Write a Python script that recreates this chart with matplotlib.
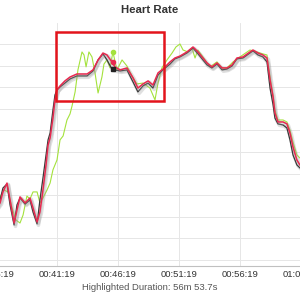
import matplotlib
matplotlib.use('Agg')
import matplotlib.pyplot as plt
import matplotlib.patheffects as pe
from matplotlib.patches import Rectangle


# Elapsed time [s] and heart rate [bpm].
main_time = [
    2174, 2199, 2213, 2233, 2248, 2268, 2282, 2297, 2322, 2346, 2361, 2381,
    2395, 2410, 2425, 2435, 2445, 2459, 2469, 2479, 2494, 2518, 2543, 2577,
    2627, 2656, 2681, 2705, 2725, 2749, 2764, 2789, 2823, 2853, 2877, 2902,
    2927, 2951, 2976, 3000, 3035, 3059, 3084, 3118, 3148, 3173, 3197, 3217,
    3241, 3266, 3291, 3315, 3340, 3364, 3394, 3428, 3443, 3468, 3492, 3512,
    3527, 3542, 3551, 3566, 3591, 3610, 3625, 3640, 3659, 3674, 3699,
]
red_hr = [
    83.1, 86.4, 91.5, 95.6, 87.8, 77.1, 83.1, 89.2, 86.4, 88.7, 84.1, 77.6,
    82.2, 92.4, 104.0, 113.2, 116.5, 125.7, 134.1, 138.7, 140.6, 142.9, 144.7, 146.1,
    146.1, 148.0, 152.6, 155.8, 154.9, 151.7, 149.4, 148.0, 148.9, 144.3, 139.6, 141.5,
    142.9, 141.0, 146.6, 148.4, 151.7, 153.5, 154.4, 156.3, 158.6, 156.3, 153.5, 151.2,
    149.4, 151.2, 148.9, 148.9, 150.3, 153.5, 154.0, 156.3, 157.2, 155.8, 154.9, 153.5,
    143.3, 135.5, 128.1, 123.9, 123.9, 123.0, 118.8, 112.3, 106.3, 104.0, 101.7,
]
black_hr = [
    83.0, 87.8, 93.3, 95.2, 85.5, 76.2, 85.5, 88.7, 85.9, 87.8, 82.2, 76.7,
    87.8, 98.0, 108.6, 115.6, 118.8, 129.4, 136.4, 138.7, 140.1, 141.9, 143.8, 145.2,
    145.2, 147.5, 152.6, 155.4, 152.6, 148.4, 148.0, 147.5, 148.0, 142.4, 137.8, 140.6,
    141.9, 139.6, 145.6, 148.0, 150.7, 153.1, 154.0, 155.8, 158.1, 155.4, 152.6, 150.3,
    148.9, 150.7, 148.0, 148.4, 149.8, 153.1, 153.5, 155.8, 156.8, 154.9, 154.0, 151.7,
    139.6, 131.8, 125.7, 123.0, 122.5, 121.1, 115.6, 108.6, 104.0, 102.6, 100.5,
]

green_time = [
    2174, 2199, 2218, 2238, 2258, 2277, 2297, 2312, 2331, 2346, 2361, 2381,
    2395, 2410, 2430, 2445, 2459, 2479, 2494, 2509, 2528, 2543, 2553, 2568,
    2582, 2602, 2612, 2622, 2636, 2651, 2666, 2681, 2700, 2710, 2725, 2740,
    2754, 2774, 2799, 2823, 2848, 2872, 2902, 2936, 2961, 2976, 2995, 3020,
    3045, 3064, 3084, 3099, 3123, 3143, 3158, 3172, 3197, 3231, 3266, 3290,
    3315, 3345, 3379, 3428, 3463, 3492, 3512, 3527, 3541, 3551, 3566, 3591,
    3610, 3625, 3640, 3659, 3674, 3699,
]
green_hr = [
    87.8, 89.2, 92.4, 91.5, 84.1, 78.5, 77.1, 80.8, 89.6, 88.2, 91.5, 91.5,
    86.4, 88.7, 92.4, 95.6, 101.7, 106.3, 115.6, 117.4, 124.8, 127.6, 131.3, 137.8,
    148.0, 156.3, 154.9, 149.4, 156.3, 154.0, 146.6, 137.3, 144.7, 150.7, 152.6, 148.9,
    156.3, 148.0, 152.6, 149.8, 145.2, 141.5, 141.9, 139.6, 134.1, 141.9, 148.9, 152.6,
    155.8, 158.6, 160.0, 157.2, 156.3, 158.1, 153.5, 157.2, 154.0, 149.4, 151.7, 148.9,
    148.9, 151.7, 154.0, 157.2, 156.3, 155.4, 154.9, 144.7, 136.4, 129.4, 124.8, 124.8,
    123.9, 120.2, 114.6, 108.6, 107.2, 105.4,
]

# Hovered point on each series
hover_time = 2754
hover_hr = {'green': 156.3, 'red': 151.7, 'black': 148.4}

# Highlighted zone (time start, time end, hr low, hr high)
zone_time = [2474, 3005]
zone_hr = [133.6, 165.6]

tick_labels = ['00:36:19', '00:41:19', '00:46:19', '00:51:19', '00:56:19', '01:01:19']
hr_grid = [60, 70, 80, 90, 100, 110, 120, 130, 140, 150, 160]

title = 'Heart Rate'
footer = 'Highlighted Duration: 56m 53.7s'

save_file_name = 'out.png'


def to_seconds(label):
    h, m, s = label.split(':')
    return int(h) * 3600 + int(m) * 60 + int(s)


def main():
    plt.rcParams['font.family'] = ['Liberation Sans', 'DejaVu Sans']

    fig = plt.figure(figsize=(3, 3), dpi=100)
    # plot area runs past the left and right edges of the picture
    ax = fig.add_axes([-0.1, 0.1133, 1.2, 0.81])

    shadow = [pe.SimpleLineShadow(offset=(1.0, -1.0), shadow_color='#999999', alpha=0.3, linewidth=2.6),
              pe.Normal()]

    ax.plot(green_time, green_hr, color='#a4e23c', linewidth=0.8, zorder=3)
    ax.plot(main_time, black_hr, color='#3a3a3a', linewidth=0.9, zorder=4, path_effects=shadow)
    ax.plot(main_time, red_hr, color='#e8294f', linewidth=1.1, zorder=5, path_effects=shadow)

    ax.plot(hover_time, hover_hr['green'], 'o', color='#a4e23c', markersize=3, zorder=6)
    ax.plot(hover_time, hover_hr['red'], 'o', color='#e8294f', markersize=3, zorder=6)
    ax.plot(hover_time, hover_hr['black'], 's', color='#222222', markersize=2.6, zorder=6)

    ax.add_patch(Rectangle((zone_time[0], zone_hr[0]), zone_time[1] - zone_time[0],
                           zone_hr[1] - zone_hr[0], fill=False, edgecolor='#e3141c',
                           linewidth=1.8, zorder=7))

    ax.set_xlim(2051, 3822)
    ax.set_ylim(57.2, 169.7)

    ax.set_xticks([to_seconds(t) for t in tick_labels])
    ax.set_xticklabels(tick_labels)
    ax.set_yticks(hr_grid)
    ax.tick_params(axis='x', length=0, pad=3, labelsize=6.8, labelcolor='#333333')
    ax.tick_params(axis='y', left=False, labelleft=False)

    ax.grid(True, color='#e6e6e6', linewidth=0.7)
    ax.set_axisbelow(True)
    for side in ['top', 'left', 'right']:
        ax.spines[side].set_visible(False)
    ax.spines['bottom'].set_color('#c0c0c0')
    ax.spines['bottom'].set_linewidth(0.8)

    fig.text(0.5, 1 - 10 / 300, title, ha='center', va='center',
             fontsize=8.2, fontweight='bold', color='#333333')
    fig.text(0.5, 1 - 287 / 300, footer, ha='center', va='center',
             fontsize=6.8, color='#555555')

    fig.savefig(save_file_name, dpi=100)


if __name__ == "__main__":
    main()
